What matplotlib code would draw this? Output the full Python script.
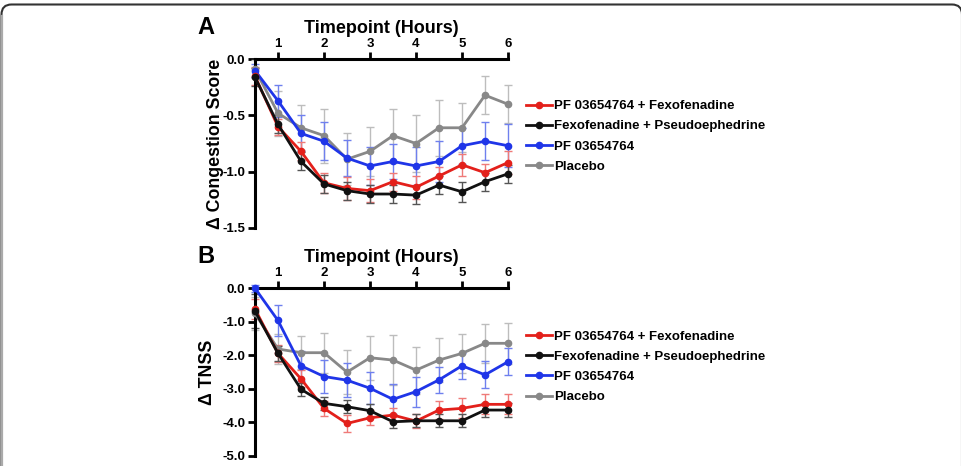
import matplotlib.pyplot as plt
from matplotlib.patches import FancyBboxPatch
from matplotlib.transforms import IdentityTransform

plt.rcParams['font.family'] = ['Liberation Sans', 'DejaVu Sans']
plt.rcParams['font.weight'] = 'bold'

hours = [0.5, 1, 1.5, 2, 2.5, 3, 3.5, 4, 4.5, 5, 5.5, 6]
series = ["PF 03654764 + Fexofenadine", "Fexofenadine + Pseudoephedrine",
          "PF 03654764", "Placebo"]

# panel A - change in congestion score (mean, SEM)
cong_red = [-0.15, -0.60, -0.82, -1.10, -1.15, -1.17, -1.09, -1.14, -1.04, -0.94, -1.01, -0.92]
cong_black = [-0.16, -0.58, -0.91, -1.11, -1.17, -1.20, -1.20, -1.21, -1.12, -1.18, -1.09, -1.02]
cong_blue = [-0.10, -0.37, -0.66, -0.73, -0.88, -0.95, -0.91, -0.95, -0.91, -0.77, -0.73, -0.77]
cong_gray = [-0.09, -0.48, -0.61, -0.68, -0.89, -0.82, -0.68, -0.75, -0.61, -0.61, -0.32, -0.40]
cong_red_err = [0.08, 0.07, 0.08, 0.09, 0.10, 0.10, 0.08, 0.10, 0.08, 0.10, 0.08, 0.10]
cong_black_err = [0.08, 0.08, 0.08, 0.08, 0.08, 0.08, 0.08, 0.08, 0.08, 0.09, 0.08, 0.08]
cong_blue_err = [0.06, 0.14, 0.16, 0.17, 0.16, 0.17, 0.16, 0.17, 0.18, 0.16, 0.17, 0.19]
cong_gray_err = [0.08, 0.20, 0.20, 0.24, 0.23, 0.22, 0.24, 0.25, 0.25, 0.22, 0.17, 0.17]

# panel B - change in TNSS (mean, SEM)
tnss_red = [-0.62, -1.94, -2.70, -3.58, -4.03, -3.86, -3.78, -3.96, -3.63, -3.58, -3.46, -3.46]
tnss_black = [-0.68, -1.94, -3.01, -3.43, -3.53, -3.65, -3.98, -3.95, -3.95, -3.95, -3.63, -3.63]
tnss_blue = [0.00, -0.96, -2.31, -2.63, -2.74, -2.98, -3.31, -3.08, -2.73, -2.31, -2.58, -2.19]
tnss_gray = [-0.75, -1.81, -1.92, -1.92, -2.50, -2.07, -2.14, -2.44, -2.14, -1.94, -1.64, -1.64]
tnss_red_err = [0.30, 0.25, 0.25, 0.22, 0.25, 0.22, 0.20, 0.22, 0.28, 0.30, 0.30, 0.30]
tnss_black_err = [0.50, 0.22, 0.20, 0.20, 0.20, 0.20, 0.20, 0.20, 0.20, 0.20, 0.20, 0.20]
tnss_blue_err = [0.10, 0.47, 0.45, 0.48, 0.50, 0.48, 0.45, 0.45, 0.38, 0.38, 0.40, 0.40]
tnss_gray_err = [0.50, 0.45, 0.50, 0.60, 0.65, 0.65, 0.75, 0.70, 0.65, 0.58, 0.58, 0.62]

colors = ['#e3201b', '#111111', '#1f35e8', '#888888']
err_colors = ['#ef7a78', '#555555', '#6f80ee', '#bdbdbd']

W, H = 961, 466
fig = plt.figure(figsize=(W / 100, H / 100), dpi=100)

# rounded frame around the figure (drawn in pixels; bottom/right edges are cut off)
frame = FancyBboxPatch((1.5, -60), 960.5, H - 4.5 + 60,
                       boxstyle="round,pad=0,rounding_size=10",
                       transform=IdentityTransform(), fill=False,
                       edgecolor='#333333', linewidth=1.5)
fig.patches.append(frame)
fig.add_artist(plt.Line2D([1.5, 1.5], [0, H - 16], color='#aaaaaa', lw=1.6,
                          transform=IdentityTransform()))


def panel(bottom_px, top_px, means, errs, ylim, yticks, ylabel, ylabel_x, letter, leg_y):
    ax = fig.add_axes([255 / W, 1 - bottom_px / H, 253 / W, (bottom_px - top_px) / H])
    order = [3, 2, 0, 1]
    for i in order:
        ax.errorbar(hours, means[i], yerr=errs[i], fmt='none', ecolor=err_colors[i],
                    elinewidth=1, capsize=3, capthick=1, clip_on=False, zorder=2)
    handles = {}
    for i in order:
        h, = ax.plot(hours, means[i], color=colors[i], lw=2, marker='o', ms=4.5,
                     clip_on=False, zorder=3, label=series[i])
        handles[i] = h
    ax.set_xlim(0.5, 6)
    ax.set_ylim(*ylim)
    ax.set_xticks([1, 2, 3, 4, 5, 6])
    ax.set_yticks(yticks)
    ax.set_yticklabels([f"{v:.1f}" for v in yticks])
    ax.xaxis.tick_top()
    for s in ['right', 'bottom']:
        ax.spines[s].set_visible(False)
    for s in ['left', 'top']:
        ax.spines[s].set_linewidth(2.2)
    ax.tick_params(axis='both', width=2, length=5, labelsize=9.5, pad=2)
    ax.set_title("Timepoint (Hours)", fontsize=13, fontweight='bold', pad=19)
    fig.text(ylabel_x / W, 1 - (bottom_px + top_px) / 2 / H, ylabel, rotation=90,
             ha='center', va='center', fontsize=12.8, fontweight='bold')
    fig.text(205.5 / W, 1 - (top_px - 32) / H, letter, ha='center', va='center',
             fontsize=17, fontweight='bold')
    leg = ax.legend([handles[i] for i in range(4)], series, loc='upper left',
                    bbox_to_anchor=(522 / W, 1 - leg_y / H), bbox_transform=fig.transFigure,
                    frameon=False, fontsize=9.5, handlelength=2.0, handletextpad=0.15,
                    labelspacing=0.6, borderaxespad=0, borderpad=0.3)
    for t in leg.get_texts():
        t.set_fontweight('bold')
    return ax


panel(227.7, 59.3, [cong_red, cong_black, cong_blue, cong_gray],
      [cong_red_err, cong_black_err, cong_blue_err, cong_gray_err],
      (-1.5, 0), [0.0, -0.5, -1.0, -1.5], "Δ Congestion Score", 215, "A", 96)
panel(456, 288.3, [tnss_red, tnss_black, tnss_blue, tnss_gray],
      [tnss_red_err, tnss_black_err, tnss_blue_err, tnss_gray_err],
      (-5, 0), [0.0, -1.0, -2.0, -3.0, -4.0, -5.0], "Δ TNSS", 208, "B", 326.5)

fig.savefig("out.png", dpi=100)
